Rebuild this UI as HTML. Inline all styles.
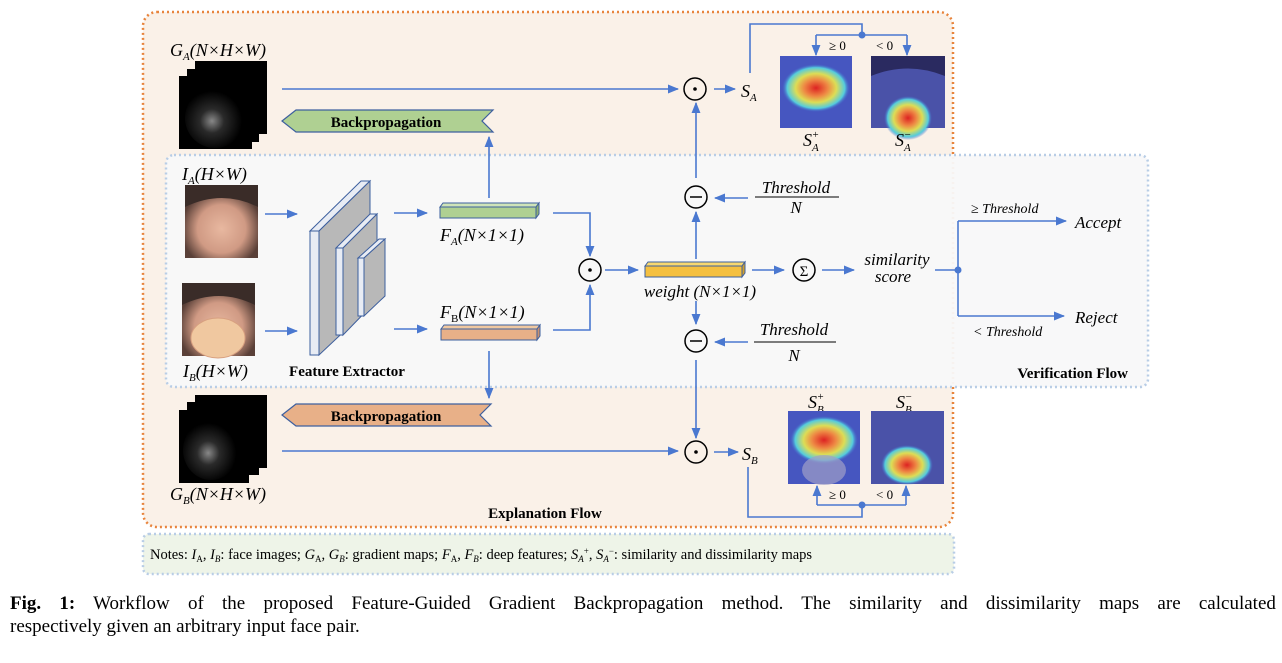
<!DOCTYPE html>
<html><head><meta charset="utf-8"><style>
body{margin:0;background:#fff;}
svg text{font-family:"Liberation Serif",serif;}
.it{font-style:italic;}
</style></head><body>
<svg width="1282" height="658" viewBox="0 0 1282 658" xmlns="http://www.w3.org/2000/svg">
<defs>
<marker id="a" viewBox="0 0 10 10" refX="9" refY="5" markerWidth="7" markerHeight="7" orient="auto"><path d="M0,1 L10,5 L0,9 z" fill="#4a78d0"/></marker>
<radialGradient id="noise" cx="0.45" cy="0.55" r="0.5"><stop offset="0" stop-color="#888"/><stop offset="0.4" stop-color="#2a2a2a"/><stop offset="1" stop-color="#000"/></radialGradient>
<radialGradient id="skin" cx="0.5" cy="0.6" r="0.55"><stop offset="0" stop-color="#e8b8a0"/><stop offset="0.6" stop-color="#d09a84"/><stop offset="1" stop-color="#5a4038"/></radialGradient>
<radialGradient id="hotEye" cx="0.5" cy="0.5" r="0.5"><stop offset="0" stop-color="#d22"/><stop offset="0.35" stop-color="#e84"/><stop offset="0.6" stop-color="#dd5"/><stop offset="0.85" stop-color="#5cd"/><stop offset="1" stop-color="#4466cc" stop-opacity="0"/></radialGradient>
</defs>
<!-- boxes -->
<rect x="143" y="12" width="810" height="515" rx="14" fill="#faf1e8" stroke="#e8843c" stroke-width="2.5" stroke-dasharray="2,3"/>
<rect x="166" y="155" width="982" height="232" rx="8" fill="#f8f8f9" fill-opacity="0.95" stroke="#b8cde6" stroke-width="2.5" stroke-dasharray="2,3"/>
<rect x="143" y="534" width="811" height="40" rx="6" fill="#eef4e8" stroke="#b8cde6" stroke-width="2.5" stroke-dasharray="2,3"/>

<!-- GA -->
<text x="170" y="56" font-size="18" class="it">G<tspan font-size="11" dy="4">A</tspan><tspan dy="-4">(N×H×W)</tspan></text>
<rect x="195" y="61" width="72" height="73" fill="#000"/><rect x="187" y="69" width="72" height="73" fill="#000"/><rect x="179" y="76" width="73" height="73" fill="#000"/>
<ellipse cx="215" cy="118" rx="30" ry="30" fill="url(#noise)"/>
<line x1="282" y1="89" x2="678" y2="89" stroke="#4a78d0" stroke-width="1.6" marker-end="url(#a)"/>
<polygon points="282,121 296,110 493,110 482,121 493,132 296,132" fill="#afd092" stroke="#3d5f9e" stroke-width="1.2"/>
<text x="386" y="127" font-size="15" font-weight="bold" text-anchor="middle">Backpropagation</text>
<line x1="489" y1="198" x2="489" y2="137" stroke="#4a78d0" stroke-width="1.6" marker-end="url(#a)"/>

<!-- Faces -->
<text x="182" y="180" font-size="18" class="it">I<tspan font-size="11" dy="4">A</tspan><tspan dy="-4">(H×W)</tspan></text>
<rect x="185" y="185" width="73" height="73" fill="url(#skin)"/>
<path d="M185,185 h73 v22 q-36,-18 -73,0z" fill="#3a2c28"/>
<rect x="182" y="283" width="73" height="73" fill="url(#skin)"/>
<path d="M182,283 h73 v22 q-36,-18 -73,0z" fill="#3a2c28"/>
<ellipse cx="218" cy="338" rx="27" ry="20" fill="#f0c8a0" stroke="#d8a080" stroke-width="1"/>
<text x="183" y="377" font-size="18" class="it">I<tspan font-size="11" dy="4">B</tspan><tspan dy="-4">(H×W)</tspan></text>
<line x1="265" y1="214" x2="297" y2="214" stroke="#4a78d0" stroke-width="1.6" marker-end="url(#a)"/>
<line x1="265" y1="331" x2="297" y2="331" stroke="#4a78d0" stroke-width="1.6" marker-end="url(#a)"/>

<!-- feature extractor -->
<g stroke="#3d5f9e" stroke-width="1">
<polygon points="310,231 361,181 370,181 319,231" fill="#e8ecf4"/>
<polygon points="319,231 370,181 370,307 319,355" fill="#b8b8b8"/>
<rect x="310" y="231" width="9" height="124" fill="#e8ecf4"/>
<polygon points="336,248 370,214 377,214 343,248" fill="#e8ecf4"/>
<polygon points="343,248 377,214 377,300 343,335" fill="#b8b8b8"/>
<rect x="336" y="248" width="7" height="87" fill="#e8ecf4"/>
<polygon points="358,258 379,239 385,239 364,258" fill="#e8ecf4"/>
<polygon points="364,258 385,239 385,296 364,316" fill="#b8b8b8"/>
<rect x="358" y="258" width="6" height="58" fill="#e8ecf4"/>
</g>
<text x="347" y="376" font-size="15" font-weight="bold" text-anchor="middle">Feature Extractor</text>
<line x1="394" y1="213" x2="427" y2="213" stroke="#4a78d0" stroke-width="1.6" marker-end="url(#a)"/>
<line x1="394" y1="329" x2="427" y2="329" stroke="#4a78d0" stroke-width="1.6" marker-end="url(#a)"/>

<!-- FA FB -->
<polygon points="440,207 443,203 539,203 536,207" fill="#cfe4b8" stroke="#3d5f9e"/>
<rect x="440" y="207" width="96" height="11" fill="#afd092" stroke="#3d5f9e"/>
<polygon points="536,207 539,203 539,214 536,218" fill="#8fb070" stroke="#3d5f9e"/>
<text x="440" y="241" font-size="18" class="it">F<tspan font-size="11" dy="4">A</tspan><tspan dy="-4">(N×1×1)</tspan></text>
<text x="440" y="318" font-size="18" class="it">F<tspan font-size="11" dy="4" font-style="normal">B</tspan><tspan dy="-4">(N×1×1)</tspan></text>
<polygon points="441,329 444,325 540,325 537,329" fill="#f0c8a0" stroke="#3d5f9e"/>
<rect x="441" y="329" width="96" height="11" fill="#e8b088" stroke="#3d5f9e"/>
<polygon points="537,329 540,325 540,336 537,340" fill="#c89070" stroke="#3d5f9e"/>
<polyline points="553,213 590,213 590,256" fill="none" stroke="#4a78d0" stroke-width="1.6" marker-end="url(#a)"/>
<polyline points="553,330 590,330 590,285" fill="none" stroke="#4a78d0" stroke-width="1.6" marker-end="url(#a)"/>
<circle cx="590" cy="270" r="11" fill="none" stroke="#000" stroke-width="1.5"/><circle cx="590" cy="270" r="1.8"/>
<line x1="605" y1="270" x2="638" y2="270" stroke="#4a78d0" stroke-width="1.6" marker-end="url(#a)"/>
<polygon points="645,266 648,262 745,262 742,266" fill="#f8d870" stroke="#3d5f9e"/>
<rect x="645" y="266" width="97" height="11" fill="#f5c040" stroke="#3d5f9e"/>
<polygon points="742,266 745,262 745,273 742,277" fill="#d0a030" stroke="#3d5f9e"/>
<text x="700" y="297" font-size="17" class="it" text-anchor="middle">weight (N×1×1)</text>

<!-- vertical paths -->
<line x1="696" y1="259" x2="696" y2="212" stroke="#4a78d0" stroke-width="1.6" marker-end="url(#a)"/>
<circle cx="696" cy="197" r="11" fill="none" stroke="#000" stroke-width="1.5"/><line x1="690" y1="197" x2="702" y2="197" stroke="#000" stroke-width="1.5"/>
<line x1="696" y1="178" x2="696" y2="103" stroke="#4a78d0" stroke-width="1.6" marker-end="url(#a)"/>
<circle cx="695" cy="89" r="11" fill="none" stroke="#000" stroke-width="1.5"/><circle cx="695" cy="89" r="1.8"/>
<line x1="714" y1="89" x2="735" y2="89" stroke="#4a78d0" stroke-width="1.6" marker-end="url(#a)"/>
<text x="741" y="97" font-size="18" class="it">S<tspan font-size="11" dy="4">A</tspan></text>
<line x1="748" y1="198" x2="715" y2="198" stroke="#4a78d0" stroke-width="1.6" marker-end="url(#a)"/>
<text x="796" y="193" font-size="17" class="it" text-anchor="middle">Threshold</text>
<line x1="755" y1="197" x2="839" y2="197" stroke="#000" stroke-width="1"/>
<text x="796" y="213" font-size="17" class="it" text-anchor="middle">N</text>

<line x1="696" y1="301" x2="696" y2="324" stroke="#4a78d0" stroke-width="1.6" marker-end="url(#a)"/>
<circle cx="696" cy="341" r="11" fill="none" stroke="#000" stroke-width="1.5"/><line x1="690" y1="341" x2="702" y2="341" stroke="#000" stroke-width="1.5"/>
<line x1="748" y1="342" x2="715" y2="342" stroke="#4a78d0" stroke-width="1.6" marker-end="url(#a)"/>
<text x="794" y="335" font-size="17" class="it" text-anchor="middle">Threshold</text>
<line x1="754" y1="342" x2="836" y2="342" stroke="#000" stroke-width="1"/>
<text x="794" y="361" font-size="17" class="it" text-anchor="middle">N</text>
<line x1="696" y1="360" x2="696" y2="438" stroke="#4a78d0" stroke-width="1.6" marker-end="url(#a)"/>
<circle cx="696" cy="452" r="11" fill="none" stroke="#000" stroke-width="1.5"/><circle cx="696" cy="452" r="1.8"/>
<line x1="714" y1="452" x2="738" y2="452" stroke="#4a78d0" stroke-width="1.6" marker-end="url(#a)"/>
<text x="742" y="460" font-size="18" class="it">S<tspan font-size="11" dy="4">B</tspan></text>

<!-- sum & verification -->
<line x1="752" y1="270" x2="784" y2="270" stroke="#4a78d0" stroke-width="1.6" marker-end="url(#a)"/>
<circle cx="804" cy="270" r="11" fill="none" stroke="#000" stroke-width="1.5"/>
<text x="804" y="276" font-size="15" text-anchor="middle">Σ</text>
<line x1="822" y1="270" x2="854" y2="270" stroke="#4a78d0" stroke-width="1.6" marker-end="url(#a)"/>
<text x="897" y="265" font-size="17" class="it" text-anchor="middle">similarity</text>
<text x="893" y="282" font-size="17" class="it" text-anchor="middle">score</text>
<line x1="935" y1="270" x2="958" y2="270" stroke="#4a78d0" stroke-width="1.6"/>
<circle cx="958" cy="270" r="3.5" fill="#4a78d0"/>
<polyline points="958,221 958,316" fill="none" stroke="#4a78d0" stroke-width="1.6"/>
<line x1="958" y1="221" x2="1066" y2="221" stroke="#4a78d0" stroke-width="1.6" marker-end="url(#a)"/>
<line x1="958" y1="316" x2="1064" y2="316" stroke="#4a78d0" stroke-width="1.6" marker-end="url(#a)"/>
<text x="971" y="213" font-size="14" class="it">≥ Threshold</text>
<text x="1075" y="228" font-size="17" class="it">Accept</text>
<text x="1075" y="323" font-size="17" class="it">Reject</text>
<text x="973" y="336" font-size="14" class="it">&lt; Threshold</text>
<text x="1128" y="378" font-size="15" font-weight="bold" text-anchor="end">Verification Flow</text>

<!-- SA heatmaps -->
<polyline points="750,73 750,24 862,24 862,35" fill="none" stroke="#4a78d0" stroke-width="1.6"/>
<line x1="816" y1="35" x2="907" y2="35" stroke="#4a78d0" stroke-width="1.6"/>
<circle cx="862" cy="35" r="3.5" fill="#4a78d0"/>
<line x1="816" y1="35" x2="816" y2="55" stroke="#4a78d0" stroke-width="1.6" marker-end="url(#a)"/>
<line x1="907" y1="35" x2="907" y2="55" stroke="#4a78d0" stroke-width="1.6" marker-end="url(#a)"/>
<text x="829" y="50" font-size="13">≥ 0</text><text x="876" y="50" font-size="13">&lt; 0</text>
<rect x="780" y="56" width="72" height="72" fill="#4656c0"/>
<ellipse cx="816" cy="88" rx="34" ry="24" fill="url(#hotEye)"/>
<rect x="871" y="56" width="74" height="72" fill="#4a52a8"/>
<path d="M871,56 h74 v20 q-37,-15 -74,0z" fill="#2a2a60"/>
<ellipse cx="908" cy="118" rx="24" ry="22" fill="url(#hotEye)"/>
<text x="803" y="146" font-size="18" class="it">S<tspan font-size="11" dy="5">A</tspan><tspan font-size="11" dx="-7" dy="-13">+</tspan></text>
<text x="895" y="146" font-size="18" class="it">S<tspan font-size="11" dy="5">A</tspan><tspan font-size="11" dx="-7" dy="-13">−</tspan></text>

<!-- SB heatmaps -->
<text x="808" y="408" font-size="18" class="it">S<tspan font-size="11" dy="5">B</tspan><tspan font-size="11" dx="-7" dy="-13">+</tspan></text>
<text x="896" y="408" font-size="18" class="it">S<tspan font-size="11" dy="5">B</tspan><tspan font-size="11" dx="-7" dy="-13">−</tspan></text>
<rect x="788" y="411" width="72" height="73" fill="#4656c0"/>
<ellipse cx="824" cy="440" rx="34" ry="24" fill="url(#hotEye)"/>
<ellipse cx="824" cy="470" rx="22" ry="15" fill="#a0a0c8" opacity="0.7"/>
<rect x="871" y="411" width="73" height="73" fill="#4a52a8"/>
<ellipse cx="907" cy="465" rx="26" ry="20" fill="url(#hotEye)"/>
<polyline points="748,467 748,517 862,517 862,505" fill="none" stroke="#4a78d0" stroke-width="1.6"/>
<line x1="817" y1="505" x2="906" y2="505" stroke="#4a78d0" stroke-width="1.6"/>
<circle cx="862" cy="505" r="3.5" fill="#4a78d0"/>
<line x1="817" y1="505" x2="817" y2="486" stroke="#4a78d0" stroke-width="1.6" marker-end="url(#a)"/>
<line x1="906" y1="505" x2="906" y2="486" stroke="#4a78d0" stroke-width="1.6" marker-end="url(#a)"/>
<text x="829" y="499" font-size="13">≥ 0</text><text x="876" y="499" font-size="13">&lt; 0</text>

<!-- GB -->
<line x1="489" y1="351" x2="489" y2="398" stroke="#4a78d0" stroke-width="1.6" marker-end="url(#a)"/>
<polygon points="282,415 296,404 491,404 480,415 491,426 296,426" fill="#e8b088" stroke="#3d5f9e" stroke-width="1.2"/>
<text x="386" y="421" font-size="15" font-weight="bold" text-anchor="middle">Backpropagation</text>
<rect x="195" y="395" width="72" height="73" fill="#000"/><rect x="187" y="402" width="72" height="73" fill="#000"/><rect x="179" y="410" width="70" height="73" fill="#000"/>
<ellipse cx="211" cy="450" rx="28" ry="30" fill="url(#noise)"/>
<text x="170" y="500" font-size="18" class="it">G<tspan font-size="11" dy="4">B</tspan><tspan dy="-4">(N×H×W)</tspan></text>
<line x1="282" y1="451" x2="678" y2="451" stroke="#4a78d0" stroke-width="1.6" marker-end="url(#a)"/>
<text x="545" y="518" font-size="15" font-weight="bold" text-anchor="middle">Explanation Flow</text>

<text x="150" y="559" font-size="14.5">Notes: <tspan class="it">I</tspan><tspan font-size="9" dy="3">A</tspan><tspan dy="-3">, </tspan><tspan class="it">I</tspan><tspan font-size="9" dy="3" class="it">B</tspan><tspan dy="-3">: face images; </tspan><tspan class="it">G</tspan><tspan font-size="9" dy="3">A</tspan><tspan dy="-3">, </tspan><tspan class="it">G</tspan><tspan font-size="9" dy="3" class="it">B</tspan><tspan dy="-3">: gradient maps; </tspan><tspan class="it">F</tspan><tspan font-size="9" dy="3">A</tspan><tspan dy="-3">, </tspan><tspan class="it">F</tspan><tspan font-size="9" dy="3" class="it">B</tspan><tspan dy="-3">: deep features; </tspan><tspan class="it">S</tspan><tspan font-size="9" dy="3" class="it">A</tspan><tspan font-size="9" dy="-8">+</tspan><tspan dy="5">, </tspan><tspan class="it">S</tspan><tspan font-size="9" dy="3" class="it">A</tspan><tspan font-size="9" dy="-8">−</tspan><tspan dy="5">: similarity and dissimilarity maps</tspan></text>

<text x="10" y="609" font-size="19" word-spacing="13.5"><tspan font-weight="bold">Fig. 1:</tspan> Workflow of the proposed Feature-Guided Gradient Backpropagation method. The similarity and dissimilarity maps are calculated</text>
<text x="10" y="632" font-size="19">respectively given an arbitrary input face pair.</text>
</svg>
</body></html>
